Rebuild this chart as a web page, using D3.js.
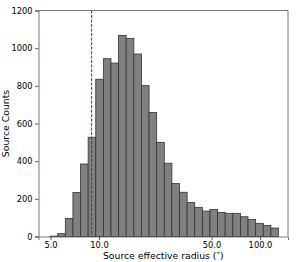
<!DOCTYPE html>
<html>
<head>
<meta charset="utf-8">
<script src="https://cdn.jsdelivr.net/npm/d3@7"></script>
<style>
  body { margin: 0; background: #fff; }
  text { font-family: "DejaVu Sans", sans-serif; fill: #000; }
</style>
</head>
<body>
<div id="chart"></div>
<script>
// Histogram counts, 30 log-spaced bins
var counts = [2, 15, 96, 234, 385, 527, 835, 944, 921, 1068, 1052, 969, 801, 659, 500,
              389, 281, 235, 180, 155, 135, 144, 128, 123, 123, 105, 91, 70, 59, 45];
var binRange = [4.97, 130.3];
var xTicks = [5, 10, 50, 100];
var yTicks = [0, 200, 400, 600, 800, 1000, 1200];
var cutRadius = 9.0;

// Drawing area
var width = 299, height = 262;
var margin = {top: 10.5, right: 11, bottom: 25.5, left: 38.5};

var svg = d3.select("#chart").append("svg")
    .attr("width", width)
    .attr("height", height);

var x = d3.scaleLog()
    .domain([4.211, 149.3])
    .range([margin.left, width - margin.right]);

var y = d3.scaleLinear()
    .domain([0, 1200])
    .range([height - margin.bottom, margin.top]);

// log-spaced bin edges
var lo = Math.log10(binRange[0]), hi = Math.log10(binRange[1]);
var bins = counts.map(function(c, i) {
    return {
        x0: Math.pow(10, lo + (hi - lo) * i / counts.length),
        x1: Math.pow(10, lo + (hi - lo) * (i + 1) / counts.length),
        n: c
    };
});

svg.append("g").selectAll("rect")
    .data(bins)
    .enter().append("rect")
    .attr("x", function(d) { return x(d.x0); })
    .attr("y", function(d) { return y(d.n); })
    .attr("width", function(d) { return x(d.x1) - x(d.x0); })
    .attr("height", function(d) { return y(0) - y(d.n); })
    .attr("fill", "#808080")
    .attr("stroke", "#333")
    .attr("stroke-width", 0.8);

// cut line
svg.append("line")
    .attr("x1", x(cutRadius)).attr("x2", x(cutRadius))
    .attr("y1", y(1200)).attr("y2", y(0))
    .attr("stroke", "#e00000")
    .attr("stroke-width", 1)
    .attr("stroke-dasharray", "3.1,1.4");

// Axes
var xAxis = svg.append("g")
    .attr("transform", "translate(0," + y(0) + ")")
    .call(d3.axisBottom(x).tickValues(xTicks).tickFormat(d3.format(".1f")).tickSizeOuter(0).tickSize(3.5).tickPadding(2.5));

var yAxis = svg.append("g")
    .attr("transform", "translate(" + margin.left + ",0)")
    .call(d3.axisLeft(y).tickValues(yTicks).tickFormat(d3.format("d")).tickSizeOuter(0).tickSize(3.5).tickPadding(2.5));

[xAxis, yAxis].forEach(function(g) {
    g.attr("font-family", null);
    g.select(".domain").attr("stroke", "#555").attr("stroke-width", 0.8);
    g.selectAll(".tick line").attr("stroke", "#333").attr("stroke-width", 0.8);
    g.selectAll(".tick text").style("font-family", "DejaVu Sans").style("font-size", "8.3px").attr("fill", "#000");
});

// top and right spines
svg.append("line")
    .attr("x1", margin.left).attr("x2", width - margin.right)
    .attr("y1", margin.top).attr("y2", margin.top)
    .attr("stroke", "#555").attr("stroke-width", 0.8);
svg.append("line")
    .attr("x1", width - margin.right).attr("x2", width - margin.right)
    .attr("y1", margin.top).attr("y2", y(0))
    .attr("stroke", "#555").attr("stroke-width", 0.8);

// Labels
svg.append("text")
    .attr("x", (margin.left + width - margin.right) / 2)
    .attr("y", 259)
    .attr("text-anchor", "middle")
    .style("font-size", "9.3px")
    .text("Source effective radius (\u2033)");

svg.append("text")
    .attr("transform", "translate(8.5," + (margin.top + y(0)) / 2 + ") rotate(-90)")
    .attr("text-anchor", "middle")
    .style("font-size", "9.3px")
    .text("Source Counts");
</script>
</body>
</html>
